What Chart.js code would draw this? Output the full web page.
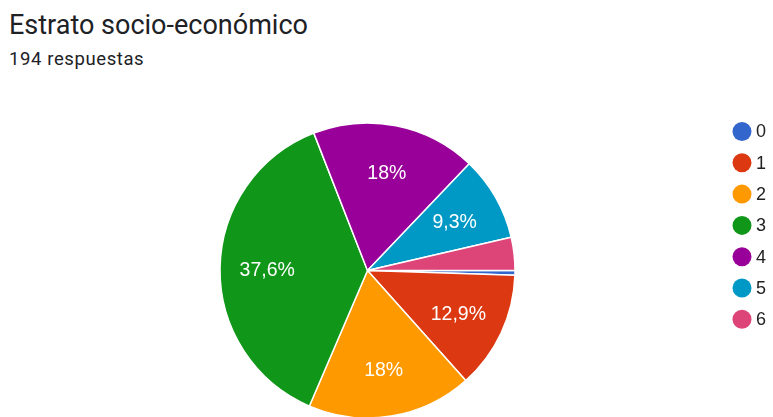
<!DOCTYPE html>
<html lang="es">
<head>
<meta charset="utf-8">
<title>Estrato socio-económico</title>
<script src="https://cdn.jsdelivr.net/npm/chart.js@4/dist/chart.umd.min.js"></script>
<style>
  html, body { margin: 0; padding: 0; background: #fff; overflow: hidden; }
  #wrap { position: relative; width: 773px; height: 417px; overflow: hidden; }
  #title { position: absolute; left: 9px; top: 9px; font: 400 27px Roboto, sans-serif; color: #202124; white-space: nowrap; }
  #subtitle { position: absolute; left: 9px; top: 48px; font: 400 18.5px Roboto, sans-serif; letter-spacing: 0.6px; color: #202124; white-space: nowrap; }
  canvas { position: absolute; left: 0; top: 0; }
</style>
</head>
<body>
<div id="wrap">
  <div id="title">Estrato socio-económico</div>
  <div id="subtitle">194 respuestas</div>
  <canvas id="c" width="773" height="440"></canvas>
</div>
<script>
// Answers per socio-economic stratum (194 responses in total)
const categories = ['0', '1', '2', '3', '4', '5', '6'];
const responses = [1, 25, 35, 73, 35, 18, 7];
const sliceColors = ['#3366cc', '#dc3912', '#ff9900', '#109618', '#990099', '#0099c6', '#dd4477'];

const total = responses.reduce((a, b) => a + b, 0);

function pctText(v) {
  const p = Math.round(v / total * 1000) / 10;
  return String(p).replace('.', ',') + '%';
}

// White percentage labels inside the larger slices
const sliceLabels = {
  id: 'sliceLabels',
  afterDatasetsDraw(chart) {
    const ctx = chart.ctx;
    const meta = chart.getDatasetMeta(0);
    ctx.save();
    ctx.fillStyle = '#ffffff';
    ctx.font = '19.5px "Liberation Sans", Arial, sans-serif';
    ctx.textAlign = 'center';
    ctx.textBaseline = 'middle';
    meta.data.forEach((arc, i) => {
      const v = chart.data.datasets[0].data[i];
      if (v / total < 0.05) return;
      const mid = (arc.startAngle + arc.endAngle) / 2;
      const r = arc.outerRadius * 0.68;
      ctx.fillText(pctText(v), arc.x + Math.cos(mid) * r, arc.y + Math.sin(mid) * r + 1.5);
    });
    ctx.restore();
  }
};

// Vertical legend with round markers on the right
const dotLegend = {
  id: 'dotLegend',
  afterDraw(chart) {
    const ctx = chart.ctx;
    const ds = chart.data.datasets[0];
    ctx.save();
    ctx.font = '18px "Liberation Sans", Arial, sans-serif';
    ctx.textBaseline = 'middle';
    ctx.textAlign = 'left';
    chart.data.labels.forEach((lab, i) => {
      const y = 131.5 + i * 31.3;
      ctx.beginPath();
      ctx.arc(742, y, 9.5, 0, Math.PI * 2);
      ctx.fillStyle = ds.backgroundColor[i];
      ctx.fill();
      ctx.fillStyle = '#222222';
      ctx.fillText(lab, 756, y + 1);
    });
    ctx.restore();
  }
};

new Chart(document.getElementById('c'), {
  type: 'pie',
  data: {
    labels: categories,
    datasets: [{
      data: responses,
      backgroundColor: sliceColors,
      borderColor: '#ffffff',
      borderWidth: 1.5
    }]
  },
  options: {
    responsive: false,
    animation: false,
    rotation: 90,
    radius: 147.5,
    layout: { padding: { left: 0, right: 38, top: 122, bottom: 21 } },
    plugins: {
      legend: { display: false },
      tooltip: { enabled: false }
    }
  },
  plugins: [sliceLabels, dotLegend]
});
</script>
</body>
</html>
